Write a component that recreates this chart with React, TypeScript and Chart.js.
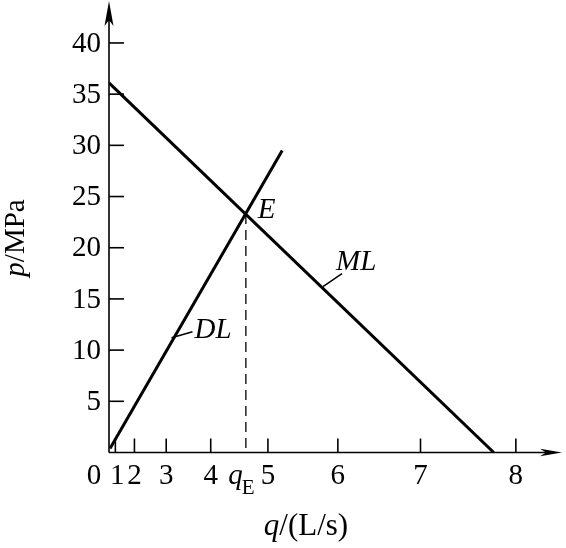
import { useEffect, useRef } from 'react';
import { Chart, registerables } from 'chart.js';

Chart.register(...registerables);

const W = 566;
const H = 548;

// x axis is drawn on a q² (quadratic) scale: tick values are q
const xTickValues = [0, 1, 2, 3, 4, 5, 6, 7, 8];
const xTickLabels = ['0', '1', '2', '3', '4', '5', '6', '7', '8'];
const yTickValues = [5, 10, 15, 20, 25, 30, 35, 40];
const yTickLabels = ['5', '10', '15', '20', '25', '30', '35', '40'];

// ML line (pump / motor characteristic)
const mlQ = [0, 7.78];
const mlP = [36.1, 0];
// DL line (load characteristic)
const dlQ = [0.4, 5.22];
const dlP = [0.4, 29.5];
// operating point E
const eQ = 4.64;
const eP = 23.3;
// where the leader lines touch the curves (p values)
const dlLabelP = 11.3;
const mlLabelP = 16.4;

const FONT = "'Liberation Serif', 'Times New Roman', serif";

const sq = (v: number) => v * v;

function xOnSegment(ax: number, ay: number, bx: number, by: number, y: number) {
  return ax + ((y - ay) / (by - ay)) * (bx - ax);
}

const overlay = {
  id: 'overlay',
  afterDatasetsDraw(chart: any) {
    const ctx = chart.ctx as CanvasRenderingContext2D;
    const xs = chart.scales.x;
    const ys = chart.scales.y;
    const x0 = xs.getPixelForValue(0);
    const y0 = ys.getPixelForValue(0);
    const xEnd = chart.width - 4;
    ctx.save();
    ctx.strokeStyle = '#000';
    ctx.fillStyle = '#000';
    ctx.lineCap = 'butt';

    // axes
    ctx.lineWidth = 1.6;
    ctx.beginPath();
    ctx.moveTo(x0, y0);
    ctx.lineTo(x0, 12);
    ctx.moveTo(x0, y0);
    ctx.lineTo(xEnd - 12, y0);
    ctx.stroke();

    // arrowheads
    ctx.beginPath();
    ctx.moveTo(x0, 1);
    ctx.lineTo(x0 - 4.5, 26);
    ctx.lineTo(x0, 20);
    ctx.lineTo(x0 + 4.5, 26);
    ctx.closePath();
    ctx.fill();
    ctx.beginPath();
    ctx.moveTo(xEnd, y0);
    ctx.lineTo(xEnd - 22, y0 - 3.8);
    ctx.lineTo(xEnd - 16, y0);
    ctx.lineTo(xEnd - 22, y0 + 3.8);
    ctx.closePath();
    ctx.fill();

    // y ticks & labels
    ctx.lineWidth = 1.6;
    ctx.font = `29px ${FONT}`;
    ctx.textAlign = 'right';
    ctx.textBaseline = 'middle';
    yTickValues.forEach((v, i) => {
      const y = ys.getPixelForValue(v);
      ctx.beginPath();
      ctx.moveTo(x0, y);
      ctx.lineTo(x0 + 15, y);
      ctx.stroke();
      ctx.fillText(yTickLabels[i], x0 - 8, y + 1);
    });

    // x ticks & labels
    ctx.textAlign = 'center';
    ctx.textBaseline = 'alphabetic';
    xTickValues.forEach((v, i) => {
      const x = xs.getPixelForValue(sq(v));
      if (v !== 0) {
        ctx.beginPath();
        ctx.moveTo(x, y0);
        ctx.lineTo(x, y0 - 14);
        ctx.stroke();
      }
      const lx = v === 0 ? x - 15 : v === 1 ? x + 2 : x;
      ctx.fillText(xTickLabels[i], lx, y0 + 31);
    });

    // qE label
    const xE = xs.getPixelForValue(sq(eQ));
    const yE = ys.getPixelForValue(eP);
    ctx.textAlign = 'right';
    ctx.font = `italic 29px ${FONT}`;
    ctx.fillText('q', xE - 3, y0 + 31);
    ctx.textAlign = 'left';
    ctx.font = `21px ${FONT}`;
    ctx.fillText('E', xE - 4, y0 + 41);

    // dashed drop line from E
    ctx.lineWidth = 1.3;
    ctx.setLineDash([10, 6]);
    ctx.beginPath();
    ctx.moveTo(xE, yE);
    ctx.lineTo(xE, y0);
    ctx.stroke();
    ctx.setLineDash([]);

    // E label
    ctx.font = `italic 29px ${FONT}`;
    ctx.textAlign = 'left';
    ctx.textBaseline = 'middle';
    ctx.fillText('E', xE + 12, yE - 4);

    // DL label + leader
    const dA = [xs.getPixelForValue(sq(dlQ[0])), ys.getPixelForValue(dlP[0])];
    const dB = [xs.getPixelForValue(sq(dlQ[1])), ys.getPixelForValue(dlP[1])];
    const dly = ys.getPixelForValue(dlLabelP);
    const dlx = xOnSegment(dA[0], dA[1], dB[0], dB[1], dly);
    ctx.lineWidth = 1.5;
    ctx.beginPath();
    ctx.moveTo(dlx - 3, dly + 1);
    ctx.lineTo(dlx + 18, dly - 5);
    ctx.stroke();
    ctx.fillText('DL', dlx + 20, dly - 6);

    // ML label + leader
    const mA = [xs.getPixelForValue(sq(mlQ[0])), ys.getPixelForValue(mlP[0])];
    const mB = [xs.getPixelForValue(sq(mlQ[1])), ys.getPixelForValue(mlP[1])];
    const mly = ys.getPixelForValue(mlLabelP);
    const mlx = xOnSegment(mA[0], mA[1], mB[0], mB[1], mly);
    ctx.beginPath();
    ctx.moveTo(mlx + 4, mly + 2);
    ctx.lineTo(mlx + 23, mly - 11);
    ctx.stroke();
    ctx.fillText('ML', mlx + 17, mly - 22);

    // axis titles
    ctx.textBaseline = 'alphabetic';
    ctx.textAlign = 'left';
    ctx.font = `italic 31px ${FONT}`;
    const qW = ctx.measureText('q').width;
    ctx.font = `31px ${FONT}`;
    const restW = ctx.measureText('/(L/s)').width;
    const tStart = 306 - (qW + restW) / 2;
    ctx.font = `italic 31px ${FONT}`;
    ctx.fillText('q', tStart, 535);
    ctx.font = `31px ${FONT}`;
    ctx.fillText('/(L/s)', tStart + qW, 535);

    ctx.save();
    ctx.translate(16, 238);
    ctx.rotate(-Math.PI / 2);
    ctx.font = `italic 29px ${FONT}`;
    const pW = ctx.measureText('p').width;
    ctx.font = `29px ${FONT}`;
    const mpW = ctx.measureText('/MPa').width;
    const s = -(pW + mpW) / 2;
    ctx.textBaseline = 'middle';
    ctx.font = `italic 29px ${FONT}`;
    ctx.fillText('p', s, 0);
    ctx.font = `29px ${FONT}`;
    ctx.fillText('/MPa', s + pW, 0);
    ctx.restore();

    ctx.restore();
  },
};

export default function App() {
  const ref = useRef<HTMLCanvasElement | null>(null);
  useEffect(() => {
    document.body.style.margin = '0';
    const canvas = ref.current;
    if (!canvas) return;
    const toPts = (qs: number[], ps: number[]) => qs.map((q, i) => ({ x: sq(q), y: ps[i] }));
    const chart = new Chart(canvas, {
      type: 'scatter',
      data: {
        datasets: [
          {
            label: 'ML',
            data: toPts(mlQ, mlP),
            showLine: true,
            borderColor: '#000',
            borderWidth: 3,
            pointRadius: 0,
          },
          {
            label: 'DL',
            data: toPts(dlQ, dlP),
            showLine: true,
            borderColor: '#000',
            borderWidth: 3,
            pointRadius: 0,
          },
        ],
      },
      options: {
        animation: false,
        responsive: false,
        devicePixelRatio: 1,
        layout: { padding: { left: 109, right: 12, top: 2, bottom: 95.5 } },
        plugins: { legend: { display: false }, tooltip: { enabled: false } },
        scales: {
          x: { type: 'linear', min: 0, max: 70, display: false },
          y: { type: 'linear', min: 0, max: 44, display: false },
        },
      },
      plugins: [overlay],
    });
    return () => chart.destroy();
  }, []);
  return (
    <div style={{ width: W, height: H, background: '#fff' }}>
      <canvas ref={ref} width={W} height={H} style={{ display: 'block', width: W, height: H }} />
    </div>
  );
}
